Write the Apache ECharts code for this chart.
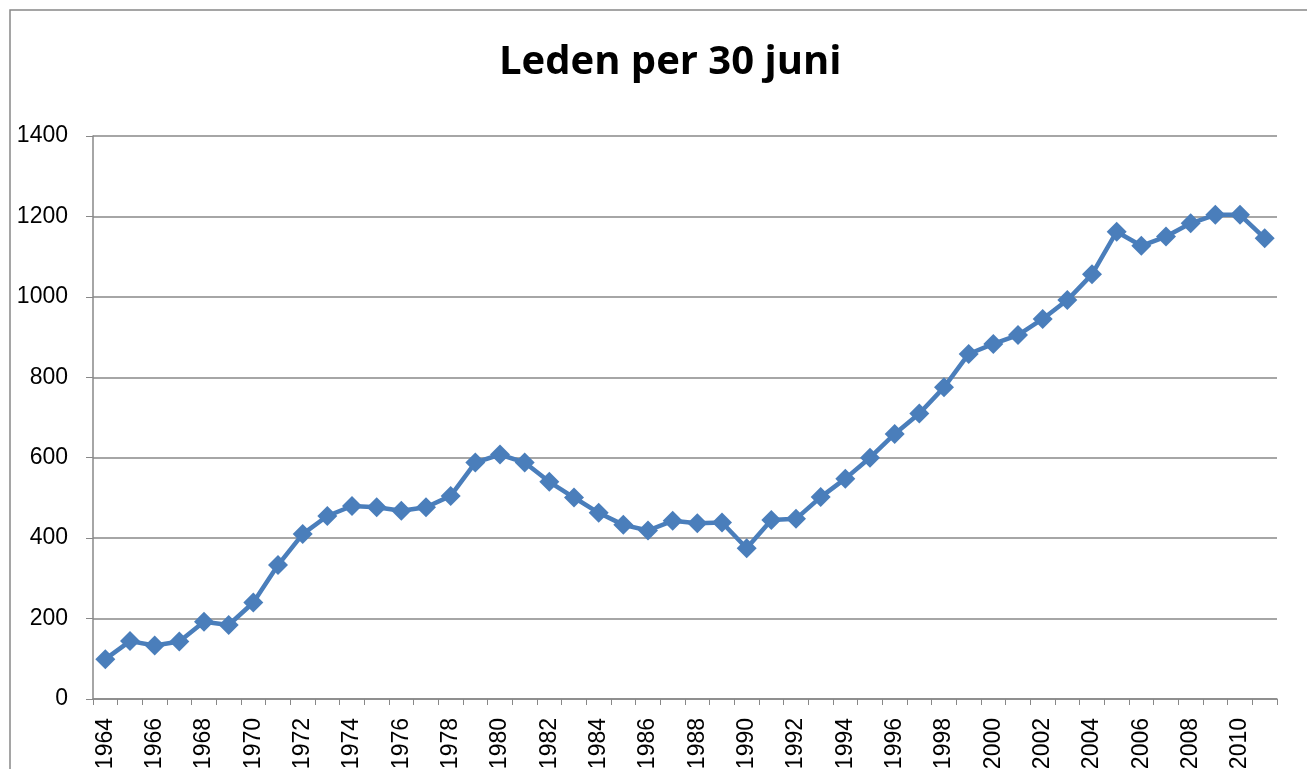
<!DOCTYPE html>
<html lang="nl">
<head>
    <meta charset="utf-8">
    <title>Leden per 30 juni</title>
    <style>
        html, body { margin: 0; padding: 0; background: #fff; }
        #main { width: 1307px; height: 769px; }
    </style>
</head>
<body>
    <div id="main"></div>
    <script src="https://cdn.jsdelivr.net/npm/echarts@6/dist/echarts.min.js"></script>
    <script type="text/javascript">
        // jaren 1964 - 2011
        var years = [];
        for (var y = 1964; y <= 2011; y++) { years.push(String(y)); }

        // aantal leden per 30 juni
        var leden = [
            99, 144, 133, 143, 192, 184, 240, 333, 410, 455,
            480, 477, 468, 477, 505, 588, 608, 588, 540, 501,
            463, 433, 419, 443, 437, 439, 375, 445, 448, 502,
            548, 600, 659, 710, 775, 858, 883, 905, 945, 992,
            1056, 1162, 1127, 1150, 1183, 1204, 1204, 1146
        ];

        var myChart = echarts.init(document.getElementById('main'));
        var option = {
            animation: false,
            title: {
                text: 'Leden per 30 juni',
                left: 494,
                top: 38,
                textStyle: {
                    fontFamily: 'Open Sans',
                    fontWeight: 'bold',
                    fontSize: 40,
                    color: '#000'
                }
            },
            graphic: [{
                type: 'polyline',
                shape: { points: [[10, 780], [10, 10], [1320, 10]] },
                style: { stroke: '#888', lineWidth: 1.5, fill: null }
            }],
            grid: {
                left: 93,
                right: 30,
                top: 136,
                bottom: 70,
                outerBoundsMode: 'none'
            },
            xAxis: {
                type: 'category',
                data: years,
                boundaryGap: true,
                axisLine: { lineStyle: { color: '#888', width: 1.5 } },
                axisTick: { show: true, interval: 0, length: 6, lineStyle: { color: '#888' } },
                axisLabel: {
                    interval: 1,
                    rotate: 90,
                    margin: 19,
                    fontFamily: 'Liberation Sans',
                    fontSize: 23,
                    color: '#000'
                }
            },
            yAxis: {
                type: 'value',
                min: 0,
                max: 1400,
                interval: 200,
                axisLine: { show: true, lineStyle: { color: '#888', width: 1.5 } },
                axisTick: { show: true, length: 7, lineStyle: { color: '#888' } },
                splitLine: { lineStyle: { color: '#888', width: 1.5 } },
                axisLabel: {
                    margin: 25,
                    fontFamily: 'Liberation Sans',
                    fontSize: 23,
                    color: '#000',
                    formatter: function (v) { return String(v); }
                }
            },
            series: [{
                name: 'Leden',
                type: 'line',
                data: leden,
                symbol: 'diamond',
                symbolSize: 20,
                showAllSymbol: true,
                itemStyle: { color: '#4A7EBB' },
                lineStyle: { color: '#4A7EBB', width: 4.5 }
            }]
        };
        myChart.setOption(option);
    </script>
</body>
</html>
